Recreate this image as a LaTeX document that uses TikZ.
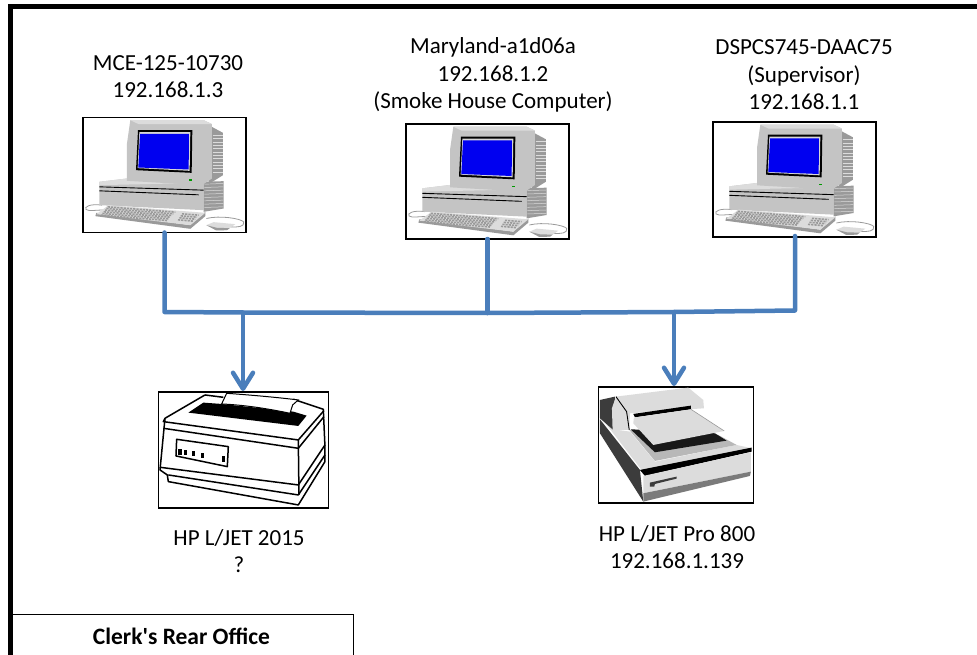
\documentclass[tikz,border=0pt]{standalone}
\usepackage{fontspec}
\setmainfont{Carlito}
\newfontfamily\roomfont{Carlito}
\usetikzlibrary{arrows.meta}
\definecolor{linkblue}{HTML}{4A7EBB}
\definecolor{bodygrey}{HTML}{C4C4C4}
\definecolor{lightgrey}{HTML}{DCDCDC}
\definecolor{midgrey}{HTML}{9A9A9A}
\definecolor{darkgrey}{HTML}{3C3C3C}
\definecolor{screenblue}{HTML}{0000F0}
\tikzset{
  iconbox/.style={draw=black,line width=1.6pt,fill=white,minimum width=#1,inner sep=0pt,outer sep=0pt},
  lbl/.style={align=center,font=\fontsize{23}{27.5}\selectfont,inner sep=0pt},
  link/.style={draw=linkblue,line width=4.5pt,line join=round,line cap=round},
  arrowlink/.style={link,-{Straight Barb[length=16pt,width=20pt,line width=4.5pt,round]}}
}
\newcommand{\computericon}[2]{%
\begin{scope}[shift={(#1,#2)},x=0.3333pt,y=-0.3333pt,shift={(-38,-22)}]
 % cables
 \draw[midgrey,line width=0.8pt] (95,285) .. controls (60,280) and (40,290) .. (47,298) .. controls (55,305) and (80,298) .. (110,300);
 \draw[midgrey,line width=0.8pt] (408,325) .. controls (450,315) and (510,325) .. (520,335) .. controls (525,350) and (500,352) .. (480,350);
 % base
 \fill[bodygrey] (87,215) -- (170,205) -- (400,215) -- (400,300) -- (87,285) -- cycle;
 \fill[lightgrey] (87,215) -- (170,205) -- (400,218) -- (87,225) -- cycle;
 \fill[midgrey] (400,215) -- (460,213) -- (460,295) -- (400,305) -- cycle;
 \foreach \yy in {222,232,...,292} \draw[lightgrey,line width=0.5pt] (402,\yy) -- (459,\yy-2);
 \draw[black,line width=0.9pt] (87,230) -- (400,240);
 \draw[black,line width=0.9pt] (87,242) -- (385,254);
 % monitor
 \fill[midgrey] (415,45) -- (458,68) -- (458,195) -- (415,222) -- cycle;
 \foreach \yy in {75,85,...,185} \draw[lightgrey,line width=0.5pt] (427,\yy) -- (457,\yy);
 \fill[bodygrey] (180,30) -- (400,30) -- (425,42) -- (425,205) -- (395,225) -- (170,212) -- (170,100) -- cycle;
 \fill[lightgrey] (180,30) -- (400,30) -- (425,42) -- (205,42) -- cycle;
 \fill[black] (203,60) -- (366,60) -- (364,188) -- (197,180) -- cycle;
 \fill[midgrey!40] (207,66) -- (360,66) -- (358,182) -- (202,174) -- cycle;
 \fill[screenblue] (209,71) -- (356,71) -- (355,178) -- (204,172) -- cycle;
 \fill[green!60!black] (356,208) rectangle (366,212);
 % keyboard
 \fill[midgrey] (75,318) -- (360,356) -- (405,318) -- (405,305) -- (360,345) -- (78,308) -- cycle;
 \fill[lightgrey] (78,312) -- (115,285) -- (405,308) -- (360,345) -- cycle;
 \foreach \ii in {0,1,2,3,4,5} \draw[midgrey,line width=1.6pt,dash pattern=on 2.2pt off 1pt] (112+\ii*-4,290+\ii*5) -- (315+\ii*-5,306+\ii*5);
 \foreach \ii in {0,1,2,3} \draw[midgrey,line width=1.6pt,dash pattern=on 2.2pt off 1pt] (335+\ii*-4,311+\ii*6) -- (385+\ii*-5,315+\ii*6);
 % mouse
 \fill[lightgrey] (408,345) -- (430,336) -- (495,342) -- (470,360) -- (440,360) -- cycle;
 \fill[midgrey] (408,345) -- (440,353) -- (478,354) -- (470,360) -- (438,361) -- cycle;
\end{scope}}
\begin{document}
\begin{tikzpicture}[x=1pt,y=-1pt]
\useasboundingbox (0,0) rectangle (977,655);
\fill[black] (8,4.5) rectangle (977,9);
\fill[black] (8,4.5) rectangle (12.5,655);
% boxes
\node[iconbox=163pt,minimum height=115pt,anchor=north west] (pc1) at (83,117.5) {};
\node[iconbox=163pt,minimum height=115pt,anchor=north west] (pc2) at (406,124) {};
\node[iconbox=163pt,minimum height=115pt,anchor=north west] (pc3) at (713,122) {};
\node[iconbox=170pt,minimum height=116pt,anchor=north west] (prn) at (158.5,392) {};
\node[iconbox=155pt,minimum height=116pt,anchor=north west] (scn) at (598.5,387) {};
\computericon{83}{117.5}
\computericon{406}{124}
\computericon{713}{122}
% printer
\begin{scope}[x=0.3333pt,y=-0.3333pt,shift={(150*3,380*3)}]
 \begin{scope}[line width=1.5pt,line join=round]
 \draw (165,45) -- (45,115) -- (30,270) -- (52,285) -- (55,305) -- (445,375) -- (525,245) -- (525,200) -- (520,88) -- (430,58);
 \draw (165,45) -- (220,52);
 \draw (45,115) -- (40,125) -- (445,180) -- (522,92);
 \draw (40,145) -- (445,205) -- (522,110);
 \draw (445,180) -- (447,345);
 \draw (30,262) -- (445,315) -- (525,195);
 \draw (55,285) -- (445,345) -- (525,225);
 \draw[fill=white] (80,178) -- (235,200) -- (232,260) -- (78,228) -- cycle;
 \end{scope}
 \fill[black] (160,68) -- (215,72) -- (430,95) -- (470,107) -- (445,138) -- (115,98) -- cycle;
 \draw[fill=white,line width=1pt] (215,72) -- (230,40) .. controls (300,45) and (380,52) .. (445,60) -- (428,75) -- (420,100) .. controls (350,85) and (280,75) .. (215,72);
 \foreach \px/\py in {90/216,106/218,130/221,158/226,221/237} \fill[black] (\px-5,\py-8) rectangle (\px+5,\py+8);
\end{scope}
% scanner
\begin{scope}[x=0.3333pt,y=-0.3333pt,shift={(590*3,350*3)}]
 \fill[lightgrey] (35,205) -- (70,238) -- (120,245) -- (195,335) -- (440,285) -- (485,295) -- (155,360) -- cycle;
 \fill[darkgrey] (30,208) -- (150,360) -- (160,455) -- (30,250) -- cycle;
 \fill[midgrey!70] (118,240) -- (385,255) -- (440,285) -- (195,333) -- cycle;
 \fill[black!90] (122,238) -- (375,250) -- (410,272) -- (195,307) -- cycle;
 \fill[black] (150,360) -- (485,293) -- (485,305) -- (165,378) -- cycle;
 \fill[lightgrey] (160,378) -- (483,307) -- (483,365) -- (160,430) -- cycle;
 \fill[midgrey!80!black] (160,430) -- (483,365) -- (480,378) -- (160,455) -- cycle;
 \fill[darkgrey] (180,398) -- (260,380) -- (260,386) -- (195,402) -- (193,410) -- (180,410) -- cycle;
 \fill[darkgrey] (30,150) -- (75,140) -- (70,240) -- (30,205) -- cycle;
 \fill[lightgrey] (78,140) -- (295,113) -- (340,150) -- (342,175) -- (120,190) -- (118,240) -- (68,240) -- (66,175) -- cycle;
 \draw[black,line width=0.9pt] (78,140) -- (110,185) -- (118,240);
 \fill[black] (130,192) -- (303,167) -- (303,178) -- (135,202) -- cycle;
 \fill[lightgrey] (132,203) -- (303,178) -- (403,243) -- (190,285) -- (130,220) -- cycle;
 \draw[midgrey,line width=0.6pt] (303,178) -- (403,243);
\end{scope}
% connectors
\coordinate (busl) at (pc1.south |- 0,312);
\coordinate (jbus) at (243,312.5);
\coordinate (jmid) at (pc2.south |- 0,313);
\coordinate (jscn) at (674,312);
\coordinate (busr) at (795,310.5);
\coordinate (pc3drop) at (795,236);
\coordinate (prntop) at (243,391);
\coordinate (scntop) at (674,386);
\draw[link] (pc1.south) -- (busl) -- (jbus) -- (jmid) -- (jscn) -- (busr) -- (pc3drop);
\draw[link] (pc2.south) -- (jmid);
\draw[arrowlink] (jbus) -- (prntop);
\draw[arrowlink] (jscn) -- (scntop);
% labels
\node[lbl] (t1) at (168,76.5) {MCE-125-10730\\192.168.1.3};
\node[lbl] (t2) at (493,75) {Maryland-a1d06a\\192.168.1.2\\(Smoke House Computer)};
\node[lbl] (t3) at (804,75) {DSPCS745-DAAC75\\(Supervisor)\\192.168.1.1};
\node[lbl] (t4) at (239,551) {HP L/JET 2015\\?};
\node[lbl] (t5) at (677,547) {HP L/JET Pro 800\\192.168.1.139};
\node[draw=black,line width=1pt,anchor=north west,minimum width=341pt,minimum height=50pt,inner sep=0pt] (room) at (12,613.5) {};
\node[font=\fontsize{23.5}{27}\selectfont\roomfont\bfseries,inner sep=0pt] (roomlbl) at (181.5,636.5) {Clerk's Rear Office};
\fill[black] (8,600) rectangle (12.5,655);
\end{tikzpicture}
\end{document}
